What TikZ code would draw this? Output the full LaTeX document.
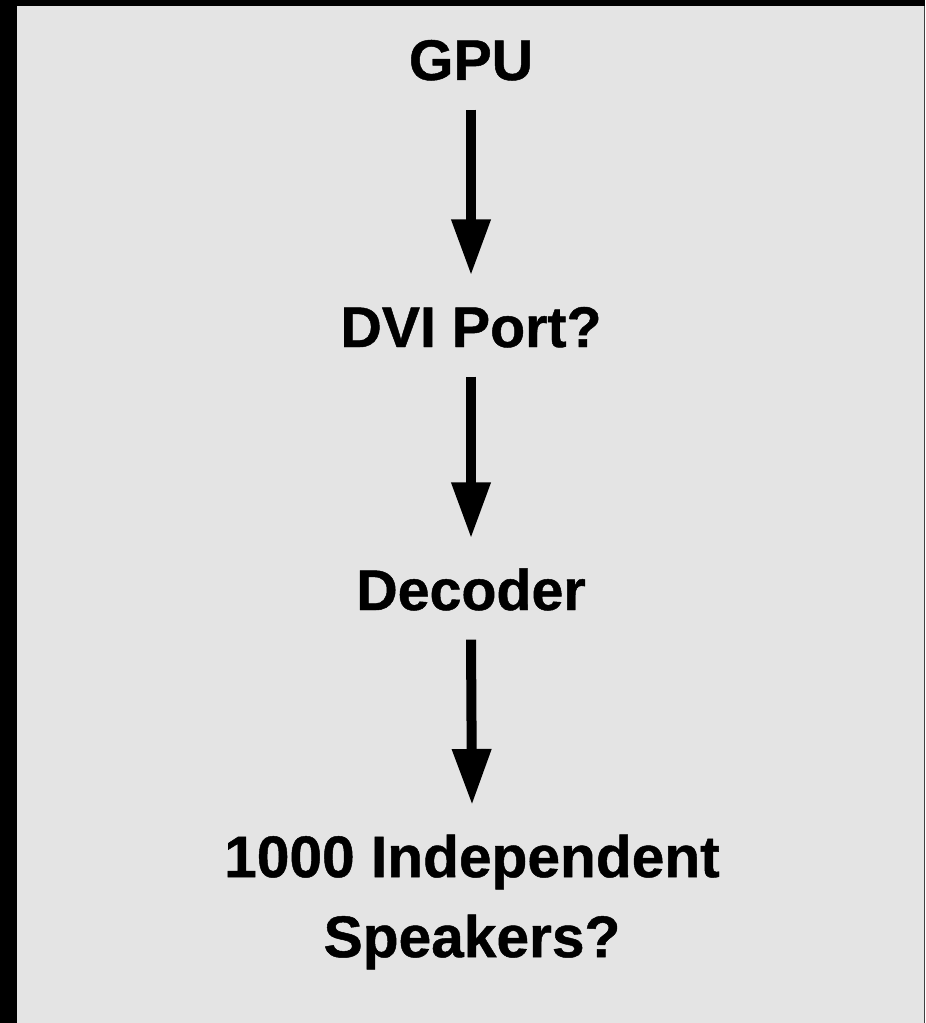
\documentclass[tikz,border=0pt]{standalone}
\usepackage{fontspec}
\setmainfont{Liberation Sans}
\newfontfamily\heavyfont{Liberation Sans Bold}[FakeBold=0.8]
\usetikzlibrary{arrows.meta}
\definecolor{bg}{HTML}{E4E4E4}
\definecolor{edge}{HTML}{404040}
\begin{document}
\begin{tikzpicture}[x=0.75pt,y=-0.75pt,
  lbl/.style={font=\fontsize{43}{60}\selectfont\heavyfont, inner xsep=0pt, inner ysep=22pt, text height=31.5pt, text depth=0pt},
  lbl2/.style={font=\fontsize{44}{60}\selectfont\heavyfont, inner xsep=0pt, inner ysep=22pt, align=center},
  arr/.style={line width=7.5pt, -{Triangle[length=42pt,width=27.75pt]}}]
\useasboundingbox (0,0) rectangle (925,1023);
\fill[bg] (0,0) rectangle (925,1023);
\fill[black] (0,0) rectangle (17,1023);
\fill[black] (0,0) rectangle (925,6);
\fill[edge] (923.5,6) rectangle (925,1023);
\node[lbl, anchor=base] (gpu) at (471,80) {GPU};
\node[lbl, anchor=base] (dvi) at (471,347) {DVI Port?};
\node[lbl, anchor=base] (dec) at (471,610) {Decoder};
\node[lbl2, anchor=north] (spk) at (472,805) {1000 Independent\\Speakers?};
\draw[arr] (gpu.south) -- (dvi.north);
\draw[arr] (dvi.south) -- (dec.north);
\draw[arr] (dec.south) -- (spk.north);
\end{tikzpicture}
\end{document}
